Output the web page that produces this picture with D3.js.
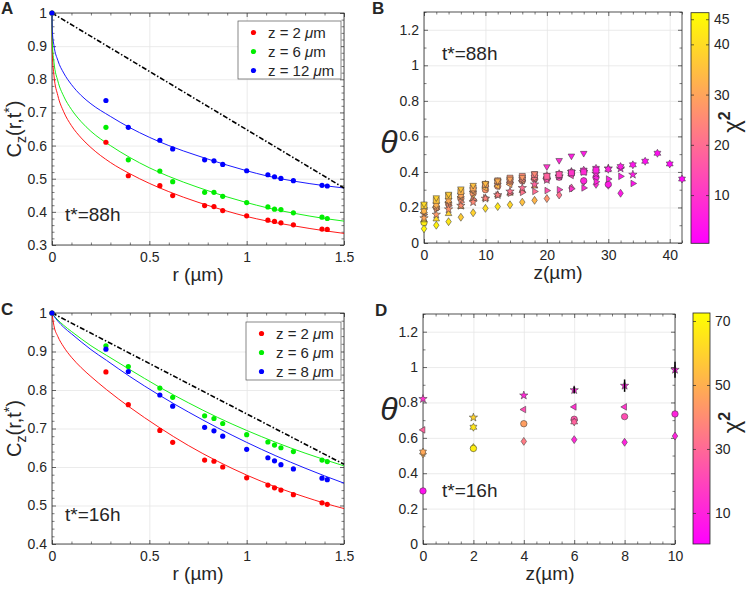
<!DOCTYPE html>
<html><head><meta charset="utf-8">
<script src="https://cdn.jsdelivr.net/npm/d3@7"></script>
<style>
body{margin:0;background:#fff}
text{font-family:"Liberation Sans",Arial,sans-serif;fill:#262626}
</style></head>
<body><svg id="c" width="750" height="590"></svg>
<script>
// ---------------- DATA ----------------
// Panels A & C: measured correlation points
const rPts = [0, 0.277, 0.392, 0.554, 0.620, 0.784, 0.832, 0.877, 1.0, 1.109, 1.143, 1.176, 1.240, 1.387, 1.414];
const aRed   = [1, 0.610, 0.509, 0.479, 0.449, 0.419, 0.416, 0.404, 0.388, 0.375, 0.371, 0.367, 0.361, 0.348, 0.347];
const aGreen = [1, 0.655, 0.557, 0.523, 0.491, 0.459, 0.459, 0.447, 0.428, 0.415, 0.408, 0.407, 0.397, 0.384, 0.380];
const aBlue  = [1, 0.736, 0.655, 0.616, 0.590, 0.557, 0.554, 0.543, 0.524, 0.512, 0.506, 0.501, 0.494, 0.480, 0.478];
const cRed   = [1, 0.847, 0.762, 0.695, 0.664, 0.618, 0.615, 0.600, 0.572, 0.553, 0.546, 0.540, 0.528, 0.507, 0.503];
const cGreen = [1, 0.915, 0.861, 0.805, 0.781, 0.733, 0.726, 0.713, 0.684, 0.665, 0.657, 0.650, 0.640, 0.618, 0.614];
const cBlue  = [1, 0.906, 0.848, 0.787, 0.758, 0.703, 0.694, 0.680, 0.646, 0.624, 0.616, 0.606, 0.595, 0.571, 0.567];
// fitted curves
const rFitA = [0, 0.0005, 0.002, 0.01, 0.03, 0.06, 0.1, 0.15, 0.2, 0.3, 0.4, 0.5, 0.6, 0.75, 0.9, 1.0, 1.1, 1.25, 1.4, 1.5];
const aRedFit   = [1, 0.913, 0.876, 0.812, 0.751, 0.702, 0.660, 0.623, 0.594, 0.549, 0.515, 0.486, 0.461, 0.429, 0.402, 0.386, 0.373, 0.357, 0.343, 0.335];
const aGreenFit = [1, 0.938, 0.907, 0.852, 0.795, 0.749, 0.709, 0.672, 0.643, 0.600, 0.564, 0.533, 0.507, 0.474, 0.445, 0.428, 0.413, 0.395, 0.380, 0.372];
const aBlueFit  = [1, 0.965, 0.943, 0.902, 0.857, 0.819, 0.784, 0.751, 0.726, 0.688, 0.654, 0.625, 0.600, 0.569, 0.541, 0.524, 0.509, 0.492, 0.479, 0.472];
const rFitC = [0, 0.01, 0.03, 0.06, 0.1, 0.15, 0.2, 0.28, 0.4, 0.55, 0.7, 0.85, 1.0, 1.15, 1.3, 1.4, 1.5];
const cRedFit   = [1, 0.967, 0.939, 0.912, 0.885, 0.858, 0.835, 0.801, 0.755, 0.703, 0.656, 0.615, 0.579, 0.548, 0.522, 0.506, 0.492];
const cGreenFit = [1, 0.993, 0.982, 0.968, 0.952, 0.933, 0.915, 0.890, 0.853, 0.808, 0.767, 0.729, 0.695, 0.664, 0.636, 0.619, 0.603];
const cBlueFit  = [1, 0.992, 0.979, 0.963, 0.946, 0.925, 0.905, 0.877, 0.835, 0.787, 0.743, 0.702, 0.664, 0.629, 0.597, 0.577, 0.558];
const rRef = [0, 1.5];
const aRef = [1, 0.472];
const cRef = [1, 0.607];
const legendA = ["z = 2 ", "z = 6 ", "z = 12 "];
const legendC = ["z = 2 ", "z = 6 ", "z = 8 "];

// Panel B: theta vs z, coloured by chi^2, one array set per marker series
const bZ_d   = [0,2,4,6,8,10,12,14,16,18,20,22,24,26,28,30,32];
const bT_d   = [0.08,0.10,0.12,0.145,0.17,0.195,0.205,0.215,0.23,0.24,0.25,0.27,0.31,0.345,0.33,0.325,0.28];
const bC_d   = [45,44,42,37,38,40,42,39,35,33,27,21,15,10,8,6,5];
const bZ_v   = [0,2,4,6,8,10,12,14,16,18,20,22,24,26];
const bT_v   = [0.22,0.255,0.275,0.305,0.325,0.335,0.35,0.36,0.37,0.39,0.43,0.465,0.49,0.505];
const bC_v   = [40,38,37,36,35,34,32,30,28,25,10,8,6,5];
const bZ_s   = [0,2,4,6,8,10,12,14,16,18,20,22,24,26,28];
const bT_s   = [0.21,0.24,0.265,0.29,0.31,0.33,0.35,0.365,0.375,0.385,0.375,0.385,0.395,0.40,0.41];
const bC_s   = [38,36,35,33,31,30,29,27,25,22,18,15,10,8,6];
const bZ_r   = [0,2,4,6,8,10,12,14,16,18,20,22,24,26,28,30,32,34];
const bT_r   = [0.16,0.19,0.21,0.23,0.245,0.255,0.27,0.28,0.285,0.29,0.295,0.30,0.305,0.31,0.345,0.36,0.375,0.335];
const bC_r   = [28,27,26,26,25,24,23,22,21,20,15,12,10,8,7,6,5,4];
const bZ_l   = [0,2,4,6,8,10,12,14,16,18,20,22,24];
const bT_l   = [0.17,0.20,0.23,0.26,0.29,0.31,0.32,0.33,0.35,0.36,0.37,0.38,0.38];
const bC_l   = [30,30,29,30,31,33,33,30,28,25,20,16,12];
const bZ_u   = [0,2,4,6,8,10,12,14,16,18];
const bT_u   = [0.13,0.135,0.165,0.205,0.25,0.25,0.27,0.28,0.295,0.32];
const bC_u   = [42,40,38,36,35,34,35,36,34,30];
const bZ_p   = [0,2,4,6,8,10,12,14,16,18,20,22,24,26,28,30,32,34];
const bT_p   = [0.14,0.16,0.19,0.21,0.23,0.25,0.27,0.29,0.31,0.33,0.355,0.375,0.40,0.40,0.39,0.42,0.42,0.385];
const bC_p   = [30,28,27,26,25,24,23,21,20,18,15,12,10,8,7,6,5,5];
const bZ_h   = [0,2,4,6,8,10,12,14,16,18,20,22,24,26,28,30,32,34,36,38,40,42];
const bT_h   = [0.18,0.215,0.24,0.27,0.30,0.33,0.345,0.35,0.36,0.37,0.38,0.39,0.40,0.41,0.42,0.415,0.43,0.44,0.46,0.505,0.445,0.36];
const bC_h   = [33,32,31,30,29,28,27,26,24,22,18,15,12,9,7,6,5,4,3,3,2,2];
const bZ_o   = [0,2,4,6,8,10,12,14,16,18,20,22,24,26,28,30];
const bT_o   = [0.115,0.20,0.22,0.25,0.28,0.30,0.32,0.34,0.35,0.36,0.36,0.37,0.39,0.35,0.37,0.33];
const bC_o   = [43,30,29,28,28,27,26,25,24,22,17,13,10,7,6,5];

// Panel D
const dZ_p = [0,2,4,6,8,10];
const dT_p = [0.82,0.715,0.84,0.87,0.895,0.985];
const dC_p = [15,60,12,10,9,8];
const dE_p = [0,0,0,0.02,0.035,0.045];
const dZ_l = [0,4,6,8];
const dT_l = [0.645,0.76,0.775,0.775];
const dC_l = [28,22,14,15];
const dZ_h = [0,2,6];
const dT_h = [0.52,0.66,0.69];
const dC_h = [48,65,28];
const dZ_o = [0,2,4,6,8,10];
const dT_o = [0.30,0.54,0.68,0.705,0.72,0.735];
const dC_o = [5,68,45,25,22,10];
const dZ_d = [0,2,4,6,8,10];
const dT_d = [0.51,0.545,0.58,0.59,0.575,0.61];
const dC_d = [50,70,35,12,10,10];

const chiTicksB = [10,20,30,40,45];
const chiTicksD = [10,30,50,70];

// ---------------- DRAW ----------------
const INK = "#262626";
const svg = d3.select("#c");
const fmt = d => String(+d.toFixed(2));

function styleAxis(s){
  s.attr("font-size",14).attr("font-family",'"Liberation Sans",Arial,sans-serif').attr("color",INK);
  s.select(".domain").remove();
  s.selectAll(".tick line").attr("stroke",INK).attr("stroke-width",0.7);
}

function frame(x, y, o){
  const g = svg.append("g");
  const [x0,x1] = x.range(), [yb,yt] = y.range();
  const W = x1-x0, H = yb-yt;
  const gridStyle = s=>{s.select(".domain").remove(); s.selectAll("line").attr("stroke","#e6e6e6").attr("stroke-width",0.8);};
  g.append("g").attr("transform",`translate(0,${yt})`)
    .call(d3.axisBottom(x).tickValues(o.xt).tickSize(H).tickFormat("")).call(gridStyle);
  g.append("g").attr("transform",`translate(${x0},0)`)
    .call(d3.axisRight(y).tickValues(o.yt).tickSize(W).tickFormat("")).call(gridStyle);
  const minor = (ax, tr) => g.append("g").attr("transform",tr)
    .call(ax.tickSize(-2.5).tickFormat(""))
    .call(s=>{s.select(".domain").remove(); s.selectAll("line").attr("stroke",INK).attr("stroke-width",0.6);});
  minor(d3.axisBottom(x).tickValues(o.xm), `translate(0,${yb})`);
  minor(d3.axisTop(x).tickValues(o.xm), `translate(0,${yt})`);
  minor(d3.axisLeft(y).tickValues(o.ym), `translate(${x0},0)`);
  minor(d3.axisRight(y).tickValues(o.ym), `translate(${x1},0)`);
  g.append("g").attr("transform",`translate(0,${yb})`)
    .call(d3.axisBottom(x).tickValues(o.xt).tickSize(-4).tickPadding(7).tickFormat(fmt)).call(styleAxis);
  g.append("g").attr("transform",`translate(0,${yt})`)
    .call(d3.axisTop(x).tickValues(o.xt).tickSize(-4).tickFormat("")).call(styleAxis);
  g.append("g").attr("transform",`translate(${x0},0)`)
    .call(d3.axisLeft(y).tickValues(o.yt).tickSize(-4).tickPadding(5).tickFormat(fmt)).call(styleAxis);
  g.append("g").attr("transform",`translate(${x1},0)`)
    .call(d3.axisRight(y).tickValues(o.yt).tickSize(-4).tickFormat("")).call(styleAxis);
  g.append("rect").attr("x",x0).attr("y",yt).attr("width",W).attr("height",H)
    .attr("fill","none").attr("stroke",INK).attr("stroke-width",0.8);
  return g;
}

function seqRange(a,b,s,skip){ const out=[]; for(let i=0;a+i*s<=b+1e-9;i++){const v=+(a+i*s).toFixed(4); if(!skip.some(k=>Math.abs(k-v)<1e-6)) out.push(v);} return out; }

// ---- panels A & C ----
function corrPanel(yTop, yBot, yMin, yt, pts, fits, rFit, ref, legendLabels, legBox, tlabel){
  const x = d3.scaleLinear().domain([0,1.5]).range([52,344]);
  const y = d3.scaleLinear().domain([yMin,1]).range([yBot,yTop]);
  const xt = [0,0.5,1,1.5];
  frame(x, y, {xt, yt, xm: seqRange(0,1.5,0.1,xt), ym: seqRange(yMin,1,0.02,yt)});
  const cols = ["#ff0000","#00ee00","#0000ff"];
  const line = d3.line().x((d,i)=>x(rFit[i])).y(d=>y(d)).curve(d3.curveMonotoneX);
  fits.forEach((f,k)=> svg.append("path").attr("d",line(f)).attr("fill","none").attr("stroke",cols[k]).attr("stroke-width",0.9));
  svg.append("path").attr("d", d3.line().x((d,i)=>x(rRef[i])).y(d=>y(d))(ref))
    .attr("fill","none").attr("stroke","#000").attr("stroke-width",1.6).attr("stroke-dasharray","5,2,1.5,2");
  pts.forEach((p,k)=> svg.append("g").selectAll("circle").data(p).join("circle")
    .attr("cx",(d,i)=>x(rPts[i])).attr("cy",d=>y(d)).attr("r",2.6).attr("fill",cols[k]));
  // legend
  const lg = svg.append("g");
  lg.append("rect").attr("x",legBox[0]).attr("y",legBox[1]).attr("width",legBox[2]).attr("height",legBox[3])
    .attr("fill","#fff").attr("stroke","#555").attr("stroke-width",0.7);
  legendLabels.forEach((t,k)=>{
    const cy = legBox[1] + 11.5 + k*19;
    lg.append("circle").attr("cx",legBox[0]+15.5).attr("cy",cy).attr("r",2.6).attr("fill",cols[k]);
    const tx = lg.append("text").attr("x",legBox[0]+30).attr("y",cy+5.5).attr("font-size",15).text(t);
    tx.append("tspan").attr("font-style","italic").text("\u03bc");
    tx.append("tspan").text("m");
  });
  svg.append("text").attr("x",65).attr("y",(yTop+yBot)/2 + 92).attr("font-size",19).text(tlabel);
  // axis labels
  svg.append("text").attr("x",198).attr("y",yBot+36).attr("text-anchor","middle").attr("font-size",19).text("r (\u00b5m)");
  const yl = svg.append("text").attr("transform",`translate(21,${(yTop+yBot)/2}) rotate(-90)`).attr("text-anchor","middle").attr("font-size",20);
  yl.append("tspan").text("C");
  yl.append("tspan").attr("font-size",14).attr("dy",5).text("z");
  yl.append("tspan").attr("dy",-5).text("(r,t");
  yl.append("tspan").attr("font-size",14).attr("dy",-7).text("*");
  yl.append("tspan").attr("dy",7).text(")");
}
corrPanel(13, 245, 0.3, [0.3,0.4,0.5,0.6,0.7,0.8,0.9,1], [aRed,aGreen,aBlue], [aRedFit,aGreenFit,aBlueFit], rFitA, aRef, legendA, [238,21,103,58], "t*=88h");
corrPanel(313, 544, 0.4, [0.4,0.5,0.6,0.7,0.8,0.9,1], [cRed,cGreen,cBlue], [cRedFit,cGreenFit,cBlueFit], rFitC, cRef, legendC, [246,322,95,58], "t*=16h");

// ---- markers ----
function poly(pts){ return "M" + pts.map(p=>p[0].toFixed(2)+","+p[1].toFixed(2)).join("L") + "Z"; }
function regular(n, r, rot){ return d3.range(n).map(i=>{const a=rot+i*2*Math.PI/n; return [r*Math.cos(a), r*Math.sin(a)];}); }
function star(n, ro, ri, rot){ return d3.range(2*n).map(i=>{const a=rot+i*Math.PI/n, r=i%2?ri:ro; return [r*Math.cos(a), r*Math.sin(a)];}); }
function marker(t, s){
  switch(t){
    case "o": return d3.symbol(d3.symbolCircle, Math.PI*(0.85*s)**2)();
    case "s": return poly([[-0.78*s,-0.78*s],[0.78*s,-0.78*s],[0.78*s,0.78*s],[-0.78*s,0.78*s]]);
    case "d": return poly([[0,-1.05*s],[0.72*s,0],[0,1.05*s],[-0.72*s,0]]);
    case "^": return poly(regular(3, s, -Math.PI/2));
    case "v": return poly(regular(3, s, Math.PI/2));
    case "<": return poly(regular(3, s, Math.PI));
    case ">": return poly(regular(3, s, 0));
    case "p": return poly(star(5, 1.15*s, 0.46*s, -Math.PI/2));
    case "h": return poly(star(6, 1.05*s, 0.6*s, -Math.PI/2));
  }
}

function thetaPanel(x, y, series, cScale, cbox, cticks, tlabel, tpos, thetaY, xlabelX){
  const xt = x.domain()[1] > 20 ? [0,10,20,30,40] : [0,2,4,6,8,10];
  const xm = x.domain()[1] > 20 ? seqRange(0,42,2,xt) : seqRange(0,10,0.5,xt);
  const yt = [0,0.2,0.4,0.6,0.8,1,1.2];
  frame(x, y, {xt, yt, xm, ym: seqRange(0,1.3,0.1,yt)});
  series.forEach(S=>{
    svg.append("g").selectAll("path").data(S.t).join("path")
      .attr("transform",(d,i)=>`translate(${x(S.z[i])},${y(d)})`)
      .attr("d", marker(S.m, 3.8))
      .attr("fill",(d,i)=>cScale(S.c[i]))
      .attr("stroke","#3a3a3a").attr("stroke-width",0.55);
  });
  // colorbar
  const [cx0,cy0,cw,ch] = cbox;
  const cy = d3.scaleLinear().domain(cScale.domain()).range([cy0+ch, cy0]);
  const gid = "g"+Math.round(cy0);
  const grad = svg.append("defs").append("linearGradient").attr("id",gid).attr("x1",0).attr("y1",1).attr("x2",0).attr("y2",0);
  grad.append("stop").attr("offset",0).attr("stop-color","#ff00ff");
  grad.append("stop").attr("offset",1).attr("stop-color","#ffff00");
  svg.append("rect").attr("x",cx0).attr("y",cy0).attr("width",cw).attr("height",ch).attr("fill",`url(#${gid})`);
  svg.append("g").attr("transform",`translate(${cx0+cw},0)`)
    .call(d3.axisRight(cy).tickValues(cticks).tickSize(-3).tickPadding(5)).call(styleAxis);
  svg.append("g").attr("transform",`translate(${cx0},0)`)
    .call(d3.axisLeft(cy).tickValues(cticks).tickSize(-3).tickFormat("")).call(styleAxis);
  svg.append("rect").attr("x",cx0).attr("y",cy0).attr("width",cw).attr("height",ch).attr("fill","none").attr("stroke",INK).attr("stroke-width",0.8);
  const chi = svg.append("text").attr("transform",`translate(740,${cy0+ch/2 - 6}) rotate(-90)`).attr("text-anchor","middle").attr("font-size",24);
  chi.append("tspan").text("\u03c7");
  chi.append("tspan").attr("font-size",16).attr("font-weight","bold").attr("dy",-10).text("2");
  svg.append("text").attr("x",tpos[0]).attr("y",tpos[1]).attr("font-size",19).text(tlabel);
  svg.append("text").attr("x",389).attr("y",thetaY).attr("text-anchor","middle").attr("font-size",32)
    .attr("font-style","italic").attr("font-family",'"Liberation Serif","DejaVu Serif",serif').text("\u03b8");
  const yb = y.range()[0];
  svg.append("text").attr("x",xlabelX).attr("y",yb+36).attr("text-anchor","middle").attr("font-size",19).text("z(\u00b5m)");
}

const xB = d3.scaleLinear().domain([0,42]).range([424,682]);
const yB = d3.scaleLinear().domain([0,1.3]).range([243,12]);
const cB = d3.scaleLinear().domain([0.4,46.3]).range(["#ff00ff","#ffff00"]);
thetaPanel(xB, yB, [
  {m:"d", z:bZ_d, t:bT_d, c:bC_d},
  {m:"o", z:bZ_o, t:bT_o, c:bC_o},
  {m:"^", z:bZ_u, t:bT_u, c:bC_u},
  {m:">", z:bZ_r, t:bT_r, c:bC_r},
  {m:"<", z:bZ_l, t:bT_l, c:bC_l},
  {m:"p", z:bZ_p, t:bT_p, c:bC_p},
  {m:"h", z:bZ_h, t:bT_h, c:bC_h},
  {m:"s", z:bZ_s, t:bT_s, c:bC_s},
  {m:"v", z:bZ_v, t:bT_v, c:bC_v}
], cB, [691,12.7,18,230.6], chiTicksB, "t*=88h", [442,60], 153, 558);

const xD = d3.scaleLinear().domain([0,10]).range([423,675]);
const yD = d3.scaleLinear().domain([0,1.3]).range([544,314]);
const cD = d3.scaleLinear().domain([0.3,72.5]).range(["#ff00ff","#ffff00"]);
thetaPanel(xD, yD, [
  {m:"d", z:dZ_d, t:dT_d, c:dC_d},
  {m:"o", z:dZ_o, t:dT_o, c:dC_o},
  {m:"h", z:dZ_h, t:dT_h, c:dC_h},
  {m:"<", z:dZ_l, t:dT_l, c:dC_l},
  {m:"p", z:dZ_p, t:dT_p, c:dC_p}
], cD, [693,313,17,231], chiTicksD, "t*=16h", [442,497], 420, 550);
// error bars in D
svg.append("g").selectAll("line").data(dT_p).join("line")
  .attr("x1",(d,i)=>xD(dZ_p[i])).attr("x2",(d,i)=>xD(dZ_p[i]))
  .attr("y1",(d,i)=>yD(d-dE_p[i])).attr("y2",(d,i)=>yD(d+dE_p[i]))
  .attr("stroke","#000").attr("stroke-width",1.5);

// panel letters
[["A",1,14],["B",372,14],["C",1,315],["D",375,316]].forEach(([t,x,y])=>
  svg.append("text").attr("x",x).attr("y",y).attr("font-size",17).attr("font-weight","bold").text(t));
</script></body></html>
